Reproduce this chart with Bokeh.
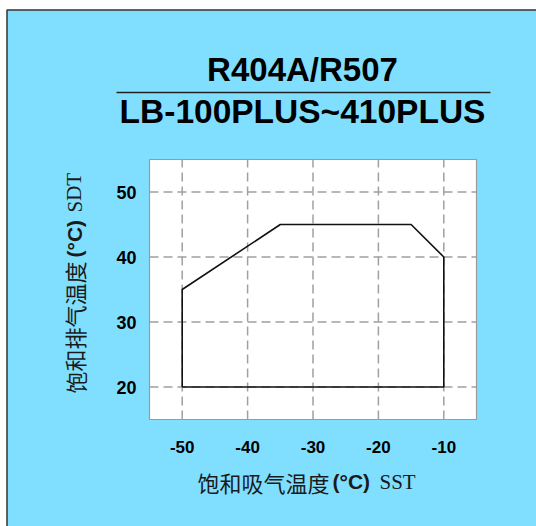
from bokeh.plotting import figure
from bokeh.models import Label, Range1d
from bokeh.core.properties import value
from bokeh.embed import file_html
from bokeh.resources import INLINE

# ---- data ----
sst = [-50, -50, -35, -15, -10, -10, -50]
sdt = [20, 35, 45, 45, 40, 20, 20]
x_ticks = [-50, -40, -30, -20, -10]
y_ticks = [20, 30, 40, 50]
x_tick_labels = [str(t) for t in x_ticks]
y_tick_labels = [str(t) for t in y_ticks]
title1 = "R404A/R507"
title2 = "LB-100PLUS~410PLUS"
xlab_parts = ["饱和吸气温度", "(°C)", "SST"]
ylab_parts = ["饱和排气温度", "(°C)", "SDT"]

W, H = 536, 526
BLUE = "#80dfff"
X0, X1, Y0, Y1 = -55, -5, 15, 55        # plot-area data limits
FL, FR, FT, FB = 149, 476, 159, 419      # plot-area edges in page px
SX = (X1 - X0) / (FR - FL)
SY = (Y1 - Y0) / (FB - FT)

def fx(px):
    return X0 + (px - FL) * SX

def fy(py):
    return Y0 + (FB - py) * SY

# The frame spans the whole canvas so that every text is drawn inside it.
p = figure(width=W, height=H, output_backend="svg", toolbar_location=None,
           x_range=Range1d(fx(0), fx(W)), y_range=Range1d(fy(H), fy(0)),
           x_axis_location=None, y_axis_location=None,
           min_border=0, min_border_left=0, min_border_right=0,
           min_border_top=0, min_border_bottom=0)
p.background_fill_color = "white"
p.border_fill_color = "white"
p.outline_line_color = None
p.xgrid.visible = False
p.ygrid.visible = False

# blue panel with dark top/left edge
p.quad(left=[fx(6.5)], right=[fx(W + 20)], top=[fy(9.5)], bottom=[fy(H + 20)],
       fill_color=BLUE, line_color="#333333", line_width=1.5)

# white plot area
p.quad(left=[X0], right=[X1], top=[Y1], bottom=[Y0],
       fill_color="white", line_color="#9a9a9a", line_width=1.2)

# dashed grid at the tick positions
p.segment(x0=x_ticks, y0=[Y0] * len(x_ticks), x1=x_ticks, y1=[Y1] * len(x_ticks),
          line_color="#a0a0a0", line_width=1.5, line_dash="9 5")
p.segment(x0=[X0] * len(y_ticks), y0=y_ticks, x1=[X1] * len(y_ticks), y1=y_ticks,
          line_color="#a0a0a0", line_width=1.5, line_dash="9 5")

# envelope
p.line(sst, sdt, line_color="#111111", line_width=1.6)

# tick labels
p.text(x=x_ticks, y=[fy(446)] * len(x_ticks), text=x_tick_labels,
       text_align="center", text_baseline="middle",
       text_font=value("Liberation Sans"), text_font_style="bold",
       text_font_size="17px", text_color="black")
p.text(x=[fx(136)] * len(y_ticks), y=y_ticks, text=y_tick_labels,
       text_align="right", text_baseline="middle",
       text_font=value("Liberation Sans"), text_font_style="bold",
       text_font_size="18px", text_color="black")

# titles
p.add_layout(Label(x=fx(302), y=fy(69), text=title1, text_align="center",
                   text_baseline="alphabetic", text_font="Liberation Sans",
                   text_font_style="bold", text_font_size="33px", text_color="black"))
p.add_layout(Label(x=fx(302), y=fy(111), text=title2, text_align="center",
                   text_baseline="alphabetic", text_font="Liberation Sans",
                   text_font_style="bold", text_font_size="33.5px", text_color="black"))
p.segment(x0=[fx(116)], y0=[fy(92)], x1=[fx(490)], y1=[fy(92)],
          line_color="#222222", line_width=1.5)

# x axis title (mixed fonts)
xl_fonts = [("Noto Sans CJK SC", "normal", "22px", 197),
            ("Liberation Sans", "bold", "21px", 332),
            ("Liberation Serif", "normal", "21px", 379)]
for txt, (fnt, sty, sz, px) in zip(xlab_parts, xl_fonts):
    p.add_layout(Label(x=fx(px), y=fy(481), text=txt, text_align="left",
                       text_baseline="middle", text_font=fnt, text_font_style=sty,
                       text_font_size=sz, text_color="#1a1a1a"))

# y axis title (rotated, mixed fonts)
yl_fonts = [("Noto Sans CJK SC", "normal", "22px", 393),
            ("Liberation Sans", "bold", "21px", 257),
            ("Liberation Serif", "normal", "21px", 212)]
for txt, (fnt, sty, sz, py) in zip(ylab_parts, yl_fonts):
    p.add_layout(Label(x=fx(74), y=fy(py), text=txt, text_align="left",
                       text_baseline="middle", text_font=fnt, text_font_style=sty,
                       text_font_size=sz, text_color="#1a1a1a", angle=1.5708))

open("out.html", "w").write(file_html(p, INLINE))
